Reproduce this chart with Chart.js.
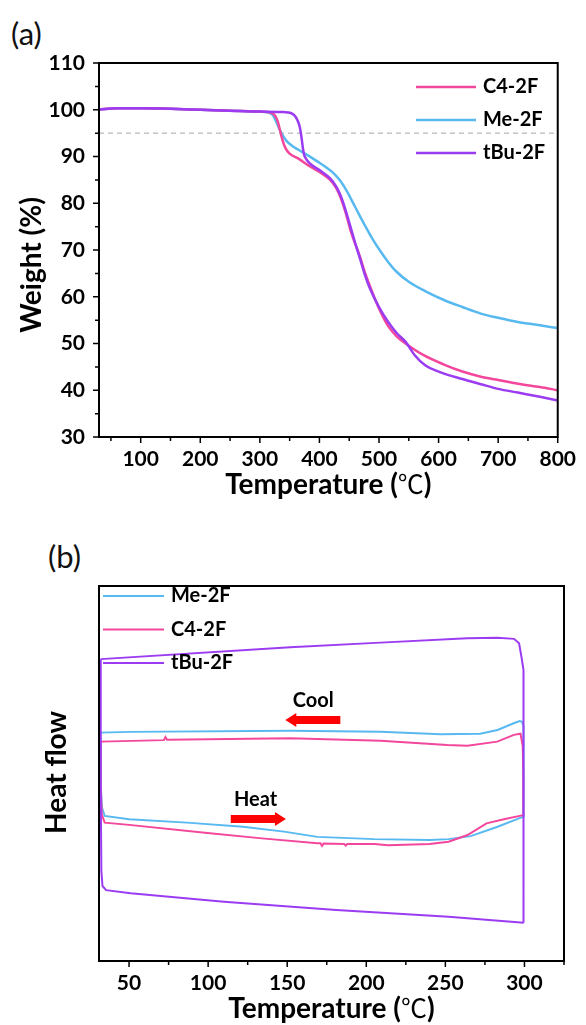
<!DOCTYPE html>
<html>
<head>
<meta charset="utf-8">
<script src="https://cdn.jsdelivr.net/npm/chart.js@4.4.1/dist/chart.umd.min.js"></script>
<style>
  body { margin: 0; background: #fff; width: 586px; height: 1025px; position: relative; overflow: hidden; font-family: Lato, sans-serif; }
  canvas { position: absolute; left: 0; }
  #tgaChart { top: 0; }
  #dscChart { top: 512px; }
  .panel { position: absolute; font-size: 31px; line-height: 31px; color: #111; }
</style>
</head>
<body>
<div class="panel" style="left:11px; top:18px;">(a)</div>
<div class="panel" style="left:48px; top:541px;">(b)</div>
<canvas id="tgaChart" width="586" height="512"></canvas>
<canvas id="dscChart" width="586" height="513"></canvas>
<script>
// TGA: temperature (°C), weight (%)
const tgaC4 = [[30,100.1],[60,100.3],[100,100.3],[150,100.2],[200,100.0],[250,99.8],[300,99.6],[318,99.4],[325,98.8],[330,97.5],[334,95.5],[338,93.5],[343,91.8],[350,90.6],[364,89.6],[385,87.8],[400,86.7],[418,85.0],[428,83.3],[435,81.4],[444,78.0],[452,74.3],[460,71.3],[468,68.6],[476,65.3],[485,62.2],[500,57.5],[516,53.6],[530,51.5],[547,49.8],[575,47.5],[609,45.5],[640,44.0],[671,42.9],[700,42.2],[733,41.4],[770,40.7],[800,40.0]];
const tgaMe = [[30,100.1],[60,100.3],[100,100.3],[150,100.2],[200,100.0],[250,99.8],[300,99.6],[315,99.4],[322,98.8],[328,97.3],[333,95.8],[338,94.6],[345,93.3],[355,92.2],[364,91.5],[380,90.3],[397,88.9],[410,87.8],[424,86.4],[435,84.8],[446,82.6],[460,79.2],[474,75.8],[488,72.6],[501,70.0],[515,67.5],[529,65.4],[550,63.2],[579,61.1],[609,59.3],[640,57.8],[671,56.4],[700,55.5],[733,54.6],[770,53.9],[800,53.3]];
const tgaTBu = [[30,100.1],[60,100.3],[100,100.3],[150,100.2],[200,100.0],[250,99.8],[300,99.6],[340,99.5],[352,99.3],[358,98.8],[363,97.8],[367,96.3],[370,94.0],[372,92.0],[374,90.5],[377,89.6],[385,88.4],[400,87.1],[418,85.3],[428,83.6],[435,81.8],[444,78.5],[452,75.0],[460,71.5],[468,68.2],[476,64.8],[485,61.7],[500,57.8],[516,54.5],[530,52.2],[545,50.3],[560,47.5],[578,45.3],[600,44.0],[640,42.4],[671,41.3],[700,40.3],[733,39.5],[770,38.6],[800,37.8]];
const tgaLimit = 95;
const tgaTempTicks = [100, 200, 300, 400, 500, 600, 700, 800];
const tgaWeightTicks = [30, 40, 50, 60, 70, 80, 90, 100, 110];

// DSC: temperature (°C), heat flow (arb. units), heating then cooling loop
const dscMe = [[31.8,60.9],[32,48],[32.8,41],[34.6,38.7],[50,37.8],[86.6,36.9],[122,35.8],[148,34.5],[169,33.1],[205,32.5],[240,32.3],[252,32.5],[266,33.3],[283,35.8],[299.3,38.5],[299.4,62.5],[298.5,63.8],[297,64.0],[293.2,63.4],[283,61.6],[272,60.6],[247,60.5],[209,61.15],[152,61.4],[50.6,61.1],[31.8,60.9]];
const dscC4 = [[31.8,58.5],[32,47],[32.8,39],[34.6,36.9],[50,36.3],[98,34.2],[134,32.7],[169,31.4],[171,31.4],[172,30.7],[173,31.3],[186,31.2],[187,30.8],[188,31.2],[205,31.2],[214,30.9],[240,31.2],[252,31.8],[264,33.6],[276,36.7],[287,37.8],[299.2,38.9],[299.3,50],[298.9,57.4],[297.5,60.6],[293.3,60.3],[282.8,58.5],[263.9,57.4],[251.2,57.6],[209,58.75],[152,59.4],[74,59.0],[73,59.7],[72,58.9],[31.8,58.5]];
const dscTBu = [[32,80.5],[32.1,45],[32.5,24],[33.2,20],[35.5,18.9],[51,18.05],[110,15.8],[181,13.6],[252,11.8],[299.5,10.2],[299.6,70],[299.2,77.6],[298.1,81.1],[296.6,84.7],[293.4,85.9],[282.9,86.2],[263.9,86.05],[209,84.9],[151.9,83.65],[32,80.5]];
const dscTempTicks = [50, 100, 150, 200, 250, 300];

const PINK = '#f2479c';
const BLUE = '#58b9f0';
const PURPLE = '#9b3cf2';
const FONT = 'Lato, sans-serif';
const TITLE_FONT = 'bold 28px ' + FONT;
const DEG_FONT = '26px "Noto Sans CJK SC", sans-serif';

const toPoints = arr => arr.map(([x, y]) => ({ x, y }));

// outer box plus outward tick marks (major and half-step minor)
const frameTicks = {
  id: 'frameTicks',
  afterDatasetsDraw(chart, args, opts) {
    const { ctx, chartArea: a, scales: { x, y } } = chart;
    ctx.save();
    ctx.strokeStyle = '#000';
    ctx.lineWidth = 1.5;
    ctx.beginPath();
    const xs = opts.xTicks || [];
    const xStep = xs.length > 1 ? xs[1] - xs[0] : 0;
    const xMinor = xs.map(v => v - xStep / 2).concat(xs.length ? [xs[xs.length - 1] + xStep / 2] : []);
    xs.forEach(v => { const p = x.getPixelForValue(v); ctx.moveTo(p, a.bottom); ctx.lineTo(p, a.bottom + 6); });
    xMinor.forEach(v => {
      if (v < x.min || v > x.max + 0.5) return;
      const p = Math.min(x.getPixelForValue(v), a.right);
      ctx.moveTo(p, a.bottom); ctx.lineTo(p, a.bottom + 4);
    });
    const ys = opts.yTicks || [];
    const yStep = ys.length > 1 ? ys[1] - ys[0] : 0;
    ys.forEach(v => { const p = y.getPixelForValue(v); ctx.moveTo(a.left, p); ctx.lineTo(a.left - 6, p); });
    ys.slice(0, -1).forEach(v => { const p = y.getPixelForValue(v + yStep / 2); ctx.moveTo(a.left, p); ctx.lineTo(a.left - 4, p); });
    ctx.stroke();
    ctx.lineWidth = 2;
    ctx.strokeRect(a.left, a.top, a.right - a.left, a.bottom - a.top);
    ctx.restore();
  }
};

// axis titles; the degree sign comes from a CJK face so it keeps its full width
const axisTitles = {
  id: 'axisTitles',
  afterDraw(chart, args, opts) {
    const { ctx, chartArea: a } = chart;
    ctx.save();
    ctx.fillStyle = '#000';
    ctx.textBaseline = 'alphabetic';
    const parts = [
      { text: 'Temperature (', font: TITLE_FONT },
      { text: '℃', font: DEG_FONT },
      { text: ')', font: TITLE_FONT }
    ];
    let total = 0;
    parts.forEach(p => { ctx.font = p.font; p.w = ctx.measureText(p.text).width; total += p.w; });
    let px = (a.left + a.right) / 2 - total / 2;
    parts.forEach(p => { ctx.font = p.font; ctx.fillText(p.text, px, a.bottom + opts.xOffset); px += p.w; });

    ctx.translate(opts.yX, (a.top + a.bottom) / 2 + opts.yShift);
    ctx.rotate(-Math.PI / 2);
    ctx.font = TITLE_FONT;
    ctx.textAlign = 'center';
    ctx.textBaseline = 'middle';
    ctx.fillText(opts.yText, 0, 0);
    ctx.restore();
  }
};

const lineLegend = {
  id: 'lineLegend',
  afterDraw(chart, args, opts) {
    const { ctx } = chart;
    ctx.save();
    ctx.font = 'bold 20px ' + FONT;
    ctx.textBaseline = 'middle';
    opts.items.forEach((label, i) => {
      const ds = chart.data.datasets.find(d => d.label === label);
      const y = opts.y + i * opts.gap;
      ctx.strokeStyle = ds.borderColor;
      ctx.lineWidth = ds.borderWidth;
      ctx.beginPath();
      ctx.moveTo(opts.x, y);
      ctx.lineTo(opts.x + opts.len, y);
      ctx.stroke();
      ctx.fillStyle = '#000';
      ctx.fillText(label, opts.x + opts.len + 7, y);
    });
    ctx.restore();
  }
};

// red direction arrows with captions, placed in data coordinates
const dirArrows = {
  id: 'dirArrows',
  afterDatasetsDraw(chart, args, opts) {
    const { ctx, scales: { x, y } } = chart;
    ctx.save();
    (opts.arrows || []).forEach(ar => {
      const x0 = x.getPixelForValue(ar.from);
      const x1 = x.getPixelForValue(ar.to);
      const py = y.getPixelForValue(ar.y);
      const dir = Math.sign(x1 - x0);
      const head = 11;
      ctx.fillStyle = '#ff0000';
      ctx.beginPath();
      ctx.moveTo(x0, py - 4);
      ctx.lineTo(x1 - dir * head, py - 4);
      ctx.lineTo(x1 - dir * head, py - 7);
      ctx.lineTo(x1, py);
      ctx.lineTo(x1 - dir * head, py + 7);
      ctx.lineTo(x1 - dir * head, py + 4);
      ctx.lineTo(x0, py + 4);
      ctx.closePath();
      ctx.fill();
      ctx.fillStyle = '#000';
      ctx.font = 'bold 20px ' + FONT;
      ctx.textAlign = 'center';
      ctx.textBaseline = 'middle';
      ctx.fillText(ar.text, x.getPixelForValue(ar.tx), y.getPixelForValue(ar.ty));
    });
    ctx.restore();
  }
};

const line = (label, data, color, width, order) => ({
  label, data: toPoints(data), borderColor: color, borderWidth: width,
  showLine: true, pointRadius: 0, fill: false, order
});

const tickFont = { family: FONT, size: 21, weight: 'bold' };

new Chart(document.getElementById('tgaChart'), {
  type: 'scatter',
  data: {
    datasets: [
      Object.assign(line('tBu-2F', tgaTBu, PURPLE, 2.5, 0), { cubicInterpolationMode: 'monotone' }),
      Object.assign(line('Me-2F', tgaMe, BLUE, 2.5, 2), { cubicInterpolationMode: 'monotone' }),
      Object.assign(line('C4-2F', tgaC4, PINK, 2.5, 1), { cubicInterpolationMode: 'monotone' }),
      { label: 'limit', data: [{ x: 30, y: tgaLimit }, { x: 800, y: tgaLimit }], borderColor: '#a6a6a6',
        borderWidth: 1, borderDash: [5, 4], showLine: true, pointRadius: 0, order: 3 }
    ]
  },
  options: {
    responsive: false,
    animation: false,
    devicePixelRatio: 1,
    layout: { padding: { top: 63, right: 23, left: 0, bottom: 0 } },
    plugins: {
      legend: { display: false },
      tooltip: { enabled: false },
      frameTicks: { xTicks: tgaTempTicks, yTicks: tgaWeightTicks },
      axisTitles: { xOffset: 57, yX: 32, yShift: 15, yText: 'Weight (%)' },
      lineLegend: { items: ['C4-2F', 'Me-2F', 'tBu-2F'], x: 416, y: 87, gap: 33, len: 60 }
    },
    scales: {
      x: {
        type: 'linear', min: 30, max: 800,
        afterBuildTicks: axis => { axis.ticks = tgaTempTicks.map(v => ({ value: v })); },
        afterFit: axis => { axis.height = 75; },
        grid: { display: false, drawTicks: false },
        border: { display: false },
        ticks: { color: '#000', font: tickFont, padding: 10, maxRotation: 0 }
      },
      y: {
        type: 'linear', min: 30, max: 110,
        afterBuildTicks: axis => { axis.ticks = tgaWeightTicks.map(v => ({ value: v })); },
        afterFit: axis => { axis.width = 99; },
        grid: { display: false, drawTicks: false },
        border: { display: false },
        ticks: { color: '#000', font: tickFont, padding: 14 }
      }
    }
  },
  plugins: [frameTicks, axisTitles, lineLegend]
});

new Chart(document.getElementById('dscChart'), {
  type: 'scatter',
  data: {
    datasets: [
      line('tBu-2F', dscTBu, PURPLE, 2, 0),
      line('C4-2F', dscC4, PINK, 2, 1),
      line('Me-2F', dscMe, BLUE, 2, 2)
    ]
  },
  options: {
    responsive: false,
    animation: false,
    devicePixelRatio: 1,
    layout: { padding: { top: 74, right: 22, left: 0, bottom: 0 } },
    plugins: {
      legend: { display: false },
      tooltip: { enabled: false },
      frameTicks: { xTicks: dscTempTicks, yTicks: [] },
      axisTitles: { xOffset: 57, yX: 57, yShift: -1, yText: 'Heat flow' },
      lineLegend: { items: ['Me-2F', 'C4-2F', 'tBu-2F'], x: 103, y: 84, gap: 33.5, len: 61 },
      dirArrows: {
        arrows: [
          { from: 183.6, to: 148.8, y: 64.3, text: 'Cool', tx: 166.5, ty: 69.5 },
          { from: 114.3, to: 149.2, y: 37.9, text: 'Heat', tx: 130, ty: 43 }
        ]
      }
    },
    scales: {
      x: {
        type: 'linear', min: 31, max: 325,
        afterBuildTicks: axis => { axis.ticks = dscTempTicks.map(v => ({ value: v })); },
        afterFit: axis => { axis.height = 64; },
        grid: { display: false, drawTicks: false },
        border: { display: false },
        ticks: { color: '#000', font: tickFont, padding: 10, maxRotation: 0 }
      },
      y: {
        type: 'linear', min: 0, max: 100,
        afterFit: axis => { axis.width = 99; },
        grid: { display: false, drawTicks: false },
        border: { display: false },
        ticks: { display: false }
      }
    }
  },
  plugins: [frameTicks, axisTitles, lineLegend, dirArrows]
});
</script>
</body>
</html>
